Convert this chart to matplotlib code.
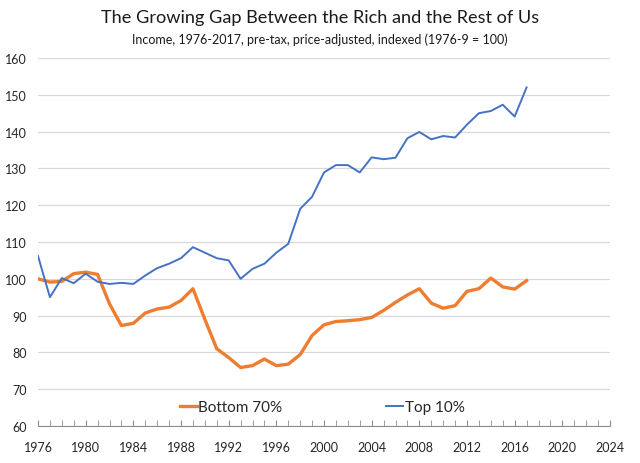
import matplotlib
matplotlib.use("Agg")
import matplotlib.pyplot as plt

plt.rcParams['font.family'] = ['Lato', 'DejaVu Sans']

years = list(range(1976, 2018))
bottom70 = [100.0, 99.1, 99.3, 101.4, 101.8, 101.2, 93.2, 87.3, 87.9, 90.7,
            91.8, 92.3, 94.1, 97.3, 89.0, 81.0, 78.6, 75.9, 76.4, 78.2,
            76.4, 76.8, 79.4, 84.6, 87.5, 88.4, 88.6, 88.9, 89.5, 91.4,
            93.6, 95.6, 97.3, 93.4, 92.0, 92.7, 96.6, 97.3, 100.2, 97.8,
            97.2, 99.5]
top10 = [106.2, 95.0, 100.2, 98.8, 101.4, 99.2, 98.6, 98.9, 98.6, 100.9,
         102.9, 104.1, 105.6, 108.6, 107.1, 105.6, 105.0, 100.0, 102.7, 104.1,
         107.1, 109.5, 119.0, 122.3, 128.9, 130.9, 130.9, 128.9, 133.0, 132.5,
         132.9, 138.2, 139.9, 137.9, 138.8, 138.4, 141.9, 145.0, 145.6, 147.3,
         144.1, 152.0]

orange = '#ED7D31'
blue = '#4472C4'

fig = plt.figure(figsize=(6.4, 4.64), dpi=100)
ax = fig.add_axes([38 / 640, 1 - 427 / 464, (610 - 38) / 640, (427 - 59) / 464])

ax.plot(years, bottom70, color=orange, lw=2.4, label='Bottom 70%', solid_joinstyle='round')
ax.plot(years, top10, color=blue, lw=1.4, label='Top 10%', solid_joinstyle='round')

ax.set_xlim(1976, 2024)
ax.set_ylim(60, 160)
ax.set_yticks(range(60, 161, 10))
ax.set_xticks(range(1976, 2025, 4))
ax.set_xticks(range(1976, 2025), minor=True)
ax.grid(axis='y', color='#D9D9D9', lw=0.9)
ax.set_axisbelow(True)

for s in ['top', 'right', 'left']:
    ax.spines[s].set_visible(False)
ax.spines['bottom'].set_color('#8C8C8C')
ax.spines['bottom'].set_zorder(0.5)
ax.tick_params(axis='x', which='both', direction='in', length=4, color='#8C8C8C',
               labelsize=9, labelcolor='#262626', pad=11)
ax.tick_params(axis='y', length=0, labelsize=9, labelcolor='#262626', pad=8)

leg = ax.legend(loc='lower center', bbox_to_anchor=(0.497, -0.005), ncol=2, frameon=False,
                fontsize=11, handlelength=1.1, handletextpad=0.1, columnspacing=6.8)
for t in leg.get_texts():
    t.set_color('#262626')

fig.text(0.5, 1 - 18 / 464, 'The Growing Gap Between the Rich and the Rest of Us',
         ha='center', va='center', fontsize=13.1, color='#1a1a1a')
fig.text(0.5, 1 - 40 / 464, 'Income, 1976-2017, pre-tax, price-adjusted, indexed (1976-9 = 100)',
         ha='center', va='center', fontsize=9, color='#1a1a1a')

fig.savefig('out.png', dpi=100, facecolor='white')
